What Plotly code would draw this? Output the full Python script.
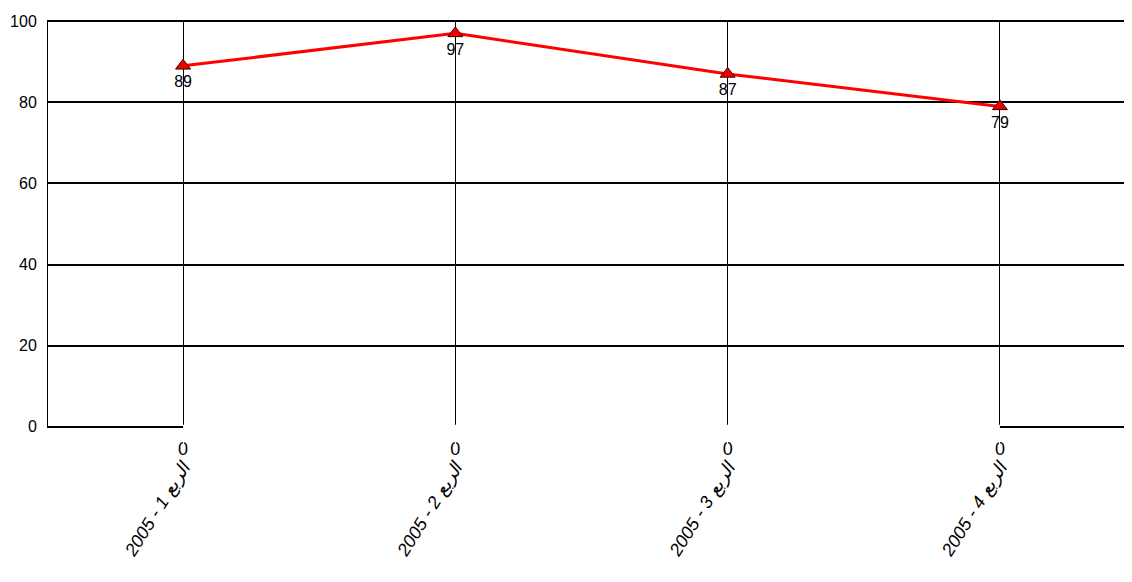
import plotly.graph_objects as go

categories = ["2005 - 1 الربع", "2005 - 2 الربع", "2005 - 3 الربع", "2005 - 4 الربع"]
values = [89, 97, 87, 79]
zero_values = [0, 0, 0, 0]
y_ticks = [0, 20, 40, 60, 80, 100]

FONT = "Liberation Sans, DejaVu Sans Condensed, sans-serif"

fig = go.Figure()

# hidden zero series (white) with its labels under the axis
fig.add_trace(go.Scatter(
    x=categories, y=zero_values, mode="lines+markers+text",
    line=dict(color="white", width=4),
    marker=dict(size=22, opacity=0, color="white"),
    text=[str(v) for v in zero_values], textposition="bottom center",
    textfont=dict(family=FONT, size=18, color="black"),
    cliponaxis=False, hoverinfo="skip", showlegend=False,
))

fig.add_trace(go.Scatter(
    x=categories, y=values, mode="lines+markers+text",
    line=dict(color="#ff0000", width=3),
    marker=dict(symbol="triangle-up", size=13, color="#ee0000",
                line=dict(color="#400000", width=1)),
    text=[str(v) for v in values], textposition="bottom center",
    textfont=dict(family=FONT, size=16, color="black"),
    cliponaxis=False, showlegend=False,
))

fig.update_layout(
    width=1124, height=566,
    margin=dict(l=40, r=0, t=12, b=146),
    paper_bgcolor="white", plot_bgcolor="white",
    font=dict(family=FONT, color="black"),
    showlegend=False,
)

fig.update_xaxes(
    type="category", range=[-0.496, 3.485], automargin=False,
    showgrid=True, gridcolor="black", gridwidth=1,
    showline=False, zeroline=False,
    tickangle=-58, ticks="outside", ticklen=21, tickcolor="white",
    tickfont=dict(family=FONT, size=18, color="black", style="italic"),
)

fig.update_yaxes(
    range=[-0.3, 100.3], tickvals=y_ticks, automargin=False,
    showgrid=True, gridcolor="black", gridwidth=2,
    showline=True, linecolor="black", linewidth=1,
    zeroline=False,
    ticks="outside", ticklen=7, tickcolor="white",
    tickfont=dict(family=FONT, size=16, color="black"),
)

fig.write_html("out.html")
